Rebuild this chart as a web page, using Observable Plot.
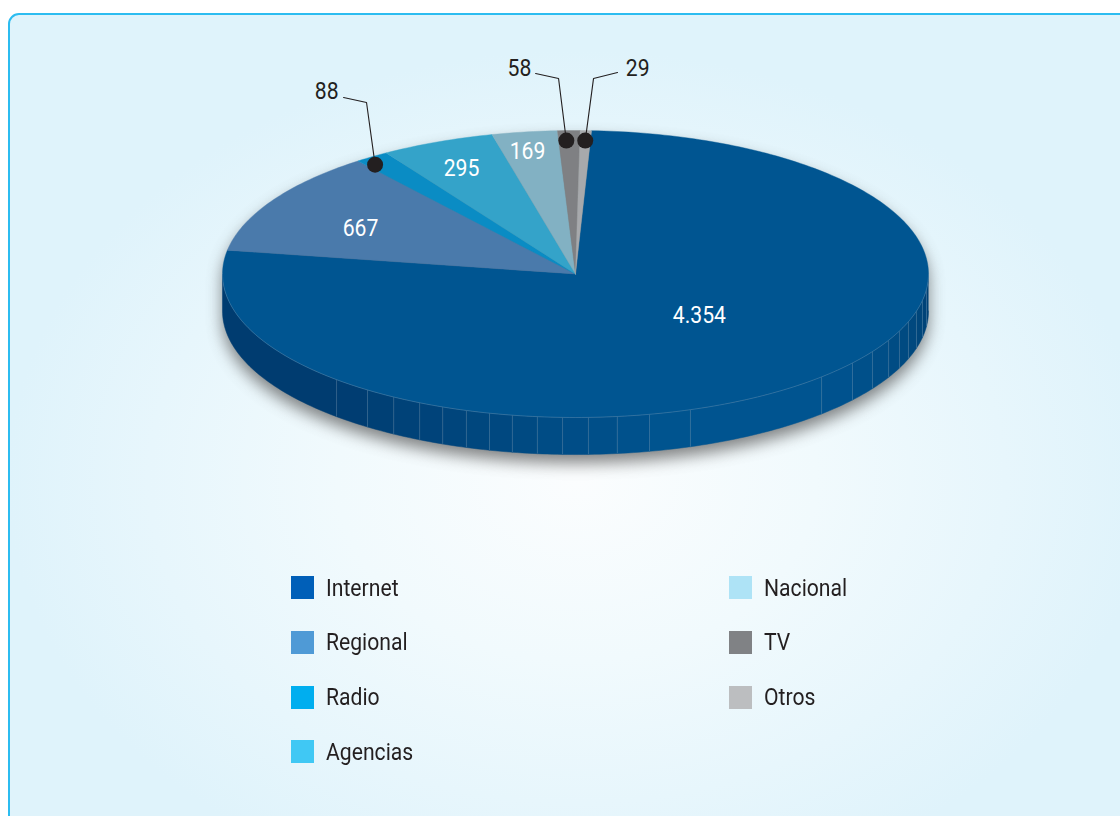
<!DOCTYPE html>
<html lang="es">
<head>
<meta charset="utf-8">
<script src="https://cdn.jsdelivr.net/npm/d3@7"></script>
<script src="https://cdn.jsdelivr.net/npm/@observablehq/plot@0.6"></script>
<style>
html,body{margin:0;padding:0;width:1120px;height:816px;overflow:hidden;background:#fff;}
#panel{position:absolute;left:8px;top:13px;width:1200px;height:900px;box-sizing:border-box;
  border:2px solid #2cbcf0;border-radius:11px;
  background:radial-gradient(ellipse 570px 430px at 567px 465px,#fbfdfe 0%,#f1fafd 42%,#e7f6fc 75%,#dff3fb 100%);}
#chart{position:absolute;left:0;top:0;}
#legend{position:absolute;left:291px;top:576px;display:grid;grid-auto-flow:column;
  grid-template-rows:repeat(4,54.8px);grid-template-columns:438px 300px;
  font:23.5px Roboto,sans-serif;color:#231f20;}
#legend .item{position:relative;height:23px;}
#legend .sw{position:absolute;left:0;top:0;width:23px;height:23px;}
#legend .tx{position:absolute;left:35px;top:-1.5px;line-height:26px;white-space:nowrap;transform:scaleX(.9);transform-origin:left center;}
.pie-shadow{filter:blur(8px);opacity:.68;}
</style>
</head>
<body>
<div id="panel"></div>
<div id="chart"></div>
<div id="legend"></div>
<script>
// Data
const categories   = ["Internet","Regional","Radio","Agencias","Nacional","TV","Otros"];
const values       = [4354,667,88,295,169,58,29];
const valueLabels  = ["4.354","667","88","295","169","58","29"];
const sliceColors  = ["#005591","#4a7aab","#0a8cc4","#34a3c9","#82b1c3","#7f8083","#a7a9ac"];
const legendColors = ["#005fb8","#4f9ad6","#00aeef","#40c8f4","#aee3f6","#808285","#bcbec0"];

// Pie view settings (unit ellipse; angles in degrees clockwise from the top)
const startDeg = 2.6;
const depth = 0.258;
const seamAngles = [96.1,100.6,105,109.4,113.4,117.5,122.7,128.3,135.8,161,167.9,173.2,177.9,182.1,186.2,190.3,194.1,198,202.1,206.2,211,216.1,222.6];
const sideStops = [90,115,136,161,222.6,270];
const sideStopColors = ["#003f72","#004c84","#005490","#005591","#003c70","#003c70"];

// Label placement in the same unit space
const insideLabelX = [0.351,-0.609,null,-0.323,-0.136,null,null];
const insideLabelY = [-0.289,0.317,null,0.735,0.854,null,null];
const calloutCats  = ["Radio","TV","Otros"];
const calloutDotAngle = [-36.7,-1.6,1.7];
const calloutDotR  = [0.95,0.93,0.93];
const elbowX = [-0.592,-0.048,0.051];
const elbowY = [1.195,1.362,1.362];
const endX   = [-0.657,-0.113,0.119];
const endY   = [1.230,1.397,1.404];
const calloutLabelX = [-0.705,-0.159,0.176];
const calloutLabelY = [1.272,1.432,1.432];

const rad = d => d*Math.PI/180;
const onRim = (deg, dz=0) => ({x:Math.sin(rad(deg)), y:Math.cos(rad(deg))-dz});
const arcPts = (a0,a1,dz=0) => {
  const n = Math.max(2, Math.ceil(Math.abs(a1-a0)/1));
  return d3.range(n+1).map(i => onRim(a0+(a1-a0)*i/n, dz));
};

// Slices from the values
const pie = d3.pie().sort(null).startAngle(rad(startDeg)).endAngle(rad(startDeg+360))(values);
const slicePts = pie.flatMap((p,i) => {
  const a0=p.startAngle*180/Math.PI, a1=p.endAngle*180/Math.PI;
  return [{x:0,y:0},...arcPts(a0,a1),{x:0,y:0}].map(q => ({...q,key:categories[i],color:sliceColors[i]}));
});

// Side wall facets
const sideColor = d3.scaleLinear().domain(sideStops).range(sideStopColors);
const edges = [90,...seamAngles,270];
const facetPts = d3.pairs(edges).flatMap(([a,b],i) =>
  [...arcPts(a,b),...arcPts(b,a,depth)].map(q => ({...q,key:"f"+i,color:sideColor((a+b)/2)})));
const seams = seamAngles.map(a => {const t=onRim(a), u=onRim(a,depth); return {x1:t.x,y1:t.y,x2:u.x,y2:u.y};});
const rim = arcPts(90,270);
const shadowShift = 0.06;
const silhouette = [...arcPts(-90,90,shadowShift),...arcPts(90,270,depth+shadowShift)];

// Callouts
const calloutPaths = calloutCats.flatMap((c,i) => {
  const dot = {x:calloutDotR[i]*Math.sin(rad(calloutDotAngle[i])), y:calloutDotR[i]*Math.cos(rad(calloutDotAngle[i]))};
  return [dot,{x:elbowX[i],y:elbowY[i]},{x:endX[i],y:endY[i]}].map(q => ({...q,key:c}));
});
const calloutDots = calloutCats.map((c,i) => ({
  x:calloutDotR[i]*Math.sin(rad(calloutDotAngle[i])), y:calloutDotR[i]*Math.cos(rad(calloutDotAngle[i]))}));
const calloutText = calloutCats.map((c,i) => ({
  x:calloutLabelX[i],y:calloutLabelY[i],t:valueLabels[categories.indexOf(c)]}));
const insideText = categories.map((c,i) => ({x:insideLabelX[i],y:insideLabelY[i],t:valueLabels[i]})).filter(d => d.x!==null);

const chart = Plot.plot({
  width:1120, height:560, margin:0,
  style:{background:"transparent",overflow:"visible"},
  x:{domain:[-1,1],range:[222,928],axis:null},
  y:{domain:[-1,1],range:[417,130],axis:null},
  marks:[
    Plot.line(silhouette,{x:"x",y:"y",fill:"#4a4a4a",stroke:"none",className:"pie-shadow"}),
    Plot.line(facetPts,{x:"x",y:"y",z:"key",fill:"color",stroke:"color",strokeWidth:0.5}),
    Plot.link(seams,{x1:"x1",y1:"y1",x2:"x2",y2:"y2",stroke:"#7fa5c2",strokeOpacity:0.38,strokeWidth:0.8}),
    Plot.line(slicePts,{x:"x",y:"y",z:"key",fill:"color",stroke:"color",strokeWidth:0.4}),
    Plot.line(rim,{x:"x",y:"y",stroke:"#7ba3c4",strokeOpacity:0.42,strokeWidth:0.8}),
    Plot.line(calloutPaths,{x:"x",y:"y",z:"key",stroke:"#231f20",strokeWidth:1.1}),
    Plot.dot(calloutDots,{x:"x",y:"y",r:8,fill:"#231f20",stroke:"none"}),
    Plot.text(insideText,{x:"x",y:"y",text:"t",fill:"#ffffff",fontSize:23.5,fontFamily:"Roboto",textAnchor:"middle",lineAnchor:"middle"}),
    Plot.text(calloutText,{x:"x",y:"y",text:"t",fill:"#231f20",fontSize:23.5,fontFamily:"Roboto",textAnchor:"middle",lineAnchor:"middle"})
  ]
});
document.getElementById("chart").append(chart);

// Condensed look of the reference lettering
d3.select(chart).selectAll("text").each(function(){
  const w = this.getComputedTextLength();
  this.setAttribute("lengthAdjust","spacingAndGlyphs");
  this.setAttribute("textLength",(w*0.9).toFixed(1));
});

// Legend below the SVG
const legend = d3.select("#legend");
categories.forEach((c,i) => {
  const it = legend.append("div").attr("class","item");
  it.append("div").attr("class","sw").style("background",legendColors[i]);
  it.append("div").attr("class","tx").text(c);
});
</script>
</body>
</html>
